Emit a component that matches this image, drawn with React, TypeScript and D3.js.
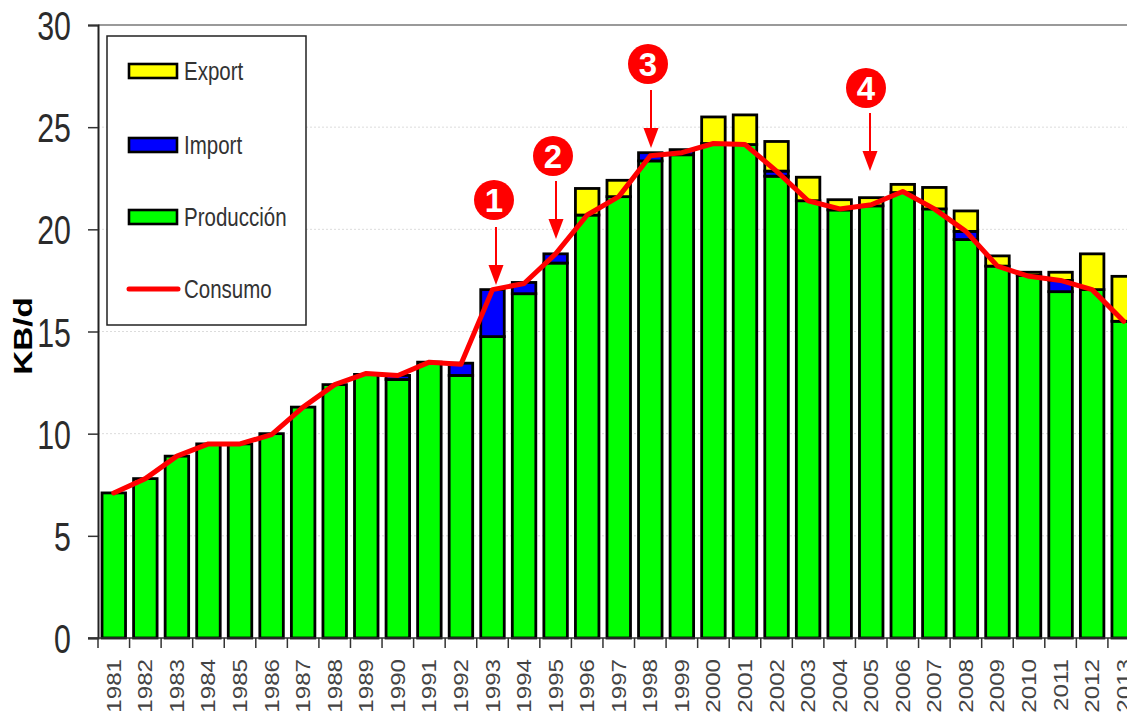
import React, { useEffect, useRef } from "react";
import * as d3 from "d3";

const years = [1981,1982,1983,1984,1985,1986,1987,1988,1989,1990,1991,1992,1993,1994,1995,1996,1997,1998,1999,2000,2001,2002,2003,2004,2005,2006,2007,2008,2009,2010,2011,2012,2013];
const produccion = [7.1,7.8,8.9,9.5,9.5,10.0,11.3,12.4,12.9,12.65,13.5,12.85,14.75,16.85,18.35,20.7,21.6,23.35,23.65,24.2,24.15,22.6,21.4,20.95,21.15,21.8,21.0,19.5,18.2,17.75,16.95,17.05,15.5];
const importacion = [0,0,0,0,0,0,0,0,0,0.2,0,0.6,2.3,0.55,0.45,0,0,0.4,0.25,0,0,0.25,0,0,0,0,0,0.4,0,0,0.55,0,0];
const exportacion = [0,0,0,0,0,0,0,0,0,0,0,0,0,0,0,1.3,0.8,0,0,1.3,1.45,1.45,1.15,0.5,0.4,0.4,1.05,1.0,0.5,0.15,0.4,1.75,2.2];
const consumo = [7.1,7.8,8.9,9.5,9.5,9.95,11.3,12.4,12.95,12.85,13.5,13.4,17.05,17.35,18.8,20.7,21.6,23.6,23.75,24.2,24.15,22.85,21.4,21.0,21.2,21.85,21.0,19.9,18.2,17.7,17.5,17.05,15.5];
const yTicks = [0,5,10,15,20,25,30];
const seriesKeys = ["produccion","importacion","exportacion"];
const seriesColors = ["#00ff00","#0000ff","#ffff00"];
const legendItems = ["Export","Import","Producción","Consumo"];
const callouts = [
  { n: "1", cx: 494, cy: 200, top: 227, tip: 285, ax: 496 },
  { n: "2", cx: 553, cy: 156, top: 181, tip: 239, ax: 556 },
  { n: "3", cx: 648, cy: 64, top: 90, tip: 148, ax: 651 },
  { n: "4", cx: 866, cy: 88, top: 113, tip: 171, ax: 870 },
];

const W = 1127, H = 716;
const FONT = "'Liberation Sans', Arial, sans-serif";

export default function App() {
  const ref = useRef<SVGSVGElement>(null);
  useEffect(() => {
    const svg = d3.select(ref.current!);
    svg.selectAll("*").remove();
    const left = 98, bottom = 638, top = 25;
    const step = 31.56;
    const x = d3.scaleBand<number>().domain(years).range([left, left + step * years.length]).paddingInner(0.255).paddingOuter(0.1275);
    const y = d3.scaleLinear().domain([0, 30]).range([bottom, top]);

    // grid
    svg.append("g").selectAll("line").data(yTicks.filter(t => t > 0 && t < 30)).join("line")
      .attr("x1", left).attr("x2", W).attr("y1", d => y(d)).attr("y2", d => y(d))
      .attr("stroke", "#dcdcdc").attr("stroke-width", 1).attr("stroke-dasharray", "2 2");
    svg.append("line").attr("x1", left).attr("x2", W).attr("y1", y(30)).attr("y2", y(30)).attr("stroke", "#9a9a9a").attr("stroke-width", 2);

    // stacked bars
    const rows = years.map((yr, i) => ({ yr, produccion: produccion[i], importacion: importacion[i], exportacion: exportacion[i] }));
    const stacked = d3.stack<any>().keys(seriesKeys)(rows);
    const bars = svg.append("g");
    stacked.forEach((s, si) => {
      bars.append("g").selectAll("rect").data(s.filter(d => d[1] - d[0] > 0)).join("rect")
        .attr("x", d => x((d.data as any).yr)!)
        .attr("width", x.bandwidth())
        .attr("y", d => y(d[1]))
        .attr("height", d => y(d[0]) - y(d[1]))
        .attr("fill", seriesColors[si]).attr("stroke", "#000").attr("stroke-width", 2.8);
    });

    // axes
    const yAxis = d3.axisLeft(y).tickValues(yTicks).tickSize(10).tickPadding(6).tickFormat(d3.format("d") as any);
    const gy = svg.append("g").attr("transform", `translate(${left},0)`).call(yAxis);
    gy.select(".domain").attr("stroke", "#222").attr("stroke-width", 2);
    gy.selectAll(".tick line").attr("stroke", "#333").attr("stroke-width", 1.5);
    gy.selectAll(".tick text")
      .attr("x", 0).attr("y", 0).attr("dy", null).attr("text-anchor", "end")
      .attr("font-family", FONT).attr("font-size", 41).attr("fill", "#2b2b2b")
      .attr("transform", `translate(${71 - left},14.5) scale(0.74,1)`);

    const gx = svg.append("g").attr("transform", `translate(0,${bottom})`);
    gx.append("line").attr("x1", left - 10).attr("x2", W).attr("stroke", "#333").attr("stroke-width", 1.5);
    gx.selectAll("line.t").data(years).join("line").attr("class", "t")
      .attr("x1", (_, i) => left + step * i).attr("x2", (_, i) => left + step * i)
      .attr("y1", 0).attr("y2", 10).attr("stroke", "#333").attr("stroke-width", 1.5);
    gx.selectAll("text").data(years).join("text")
      .text(d => d)
      .attr("font-family", FONT).attr("font-size", 21).attr("fill", "#444").attr("text-anchor", "end")
      .attr("transform", d => `translate(${x(d)! + x.bandwidth() / 2 + 7},${21}) rotate(-90) scale(1.15,1)`);

    // consumo line
    const line = d3.line<number>().x((_, i) => x(years[i])! + x.bandwidth() / 2).y(d => y(d));
    svg.append("path").attr("d", line(consumo)!).attr("fill", "none").attr("stroke", "#ff0000")
      .attr("stroke-width", 5).attr("stroke-linejoin", "round").attr("stroke-linecap", "round");

    // y title
    svg.append("text").text("KB/d").attr("font-family", FONT).attr("font-weight", "bold").attr("font-size", 25).attr("fill", "#000")
      .attr("text-anchor", "middle").attr("transform", "translate(32,336) rotate(-90) scale(1.33,1)");

    // legend
    const lg = svg.append("g");
    lg.append("rect").attr("x", 107).attr("y", 36).attr("width", 199).attr("height", 289).attr("fill", "#fff").attr("stroke", "#222").attr("stroke-width", 1.5);
    const ly = [71, 145, 217, 289];
    legendItems.forEach((name, i) => {
      if (i < 3) {
        lg.append("rect").attr("x", 129).attr("y", ly[i] - 7).attr("width", 48).attr("height", 14)
          .attr("fill", seriesColors[2 - i]).attr("stroke", "#000").attr("stroke-width", 2.6);
      } else {
        lg.append("line").attr("x1", 129).attr("x2", 178).attr("y1", ly[i]).attr("y2", ly[i])
          .attr("stroke", "#ff0000").attr("stroke-width", 5).attr("stroke-linecap", "round");
      }
      lg.append("text").text(name).attr("font-family", FONT).attr("font-size", 25).attr("fill", "#333")
        .attr("transform", `translate(184,${ly[i] + 9}) scale(0.82,1)`);
    });

    // callouts
    const cg = svg.append("g");
    callouts.forEach(c => {
      cg.append("line").attr("x1", c.ax).attr("x2", c.ax).attr("y1", c.top).attr("y2", c.tip - 18).attr("stroke", "#ff0000").attr("stroke-width", 2);
      cg.append("path").attr("d", d3.line()([[c.ax - 7.5, c.tip - 20], [c.ax + 7.5, c.tip - 20], [c.ax, c.tip]])! + "Z").attr("fill", "#ff0000");
      cg.append("circle").attr("cx", c.cx).attr("cy", c.cy).attr("r", 20).attr("fill", "#ff0000");
      cg.append("text").text(c.n).attr("x", c.cx).attr("y", c.cy + 12).attr("text-anchor", "middle")
        .attr("font-family", FONT).attr("font-weight", "bold").attr("font-size", 33).attr("fill", "#fff");
    });
  }, []);
  return (
    <svg ref={ref} width={W} height={H} viewBox={`0 0 ${W} ${H}`}
      style={{ position: "absolute", left: 0, top: 0, background: "#fff", display: "block" }} />
  );
}
